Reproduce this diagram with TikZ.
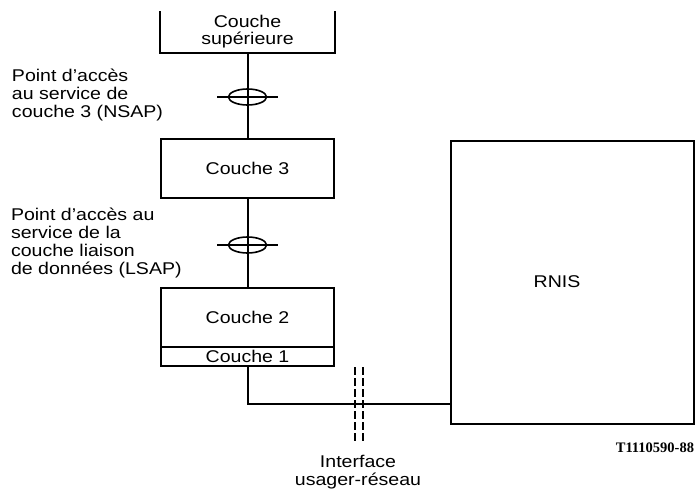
\documentclass[tikz,border=0pt]{standalone}
\usepackage{fontspec}
\setmainfont{Liberation Sans}[FakeStretch=1.15]
\newfontfamily\reffont{Liberation Serif}
\usetikzlibrary{shapes.geometric}
\begin{document}
\begin{tikzpicture}[x=1pt,y=-1pt,line width=2pt,
  txt/.style={font=\fontsize{17}{18}\selectfont, inner sep=0pt},
  layerbox/.style={draw, rectangle, minimum width=173pt, inner sep=0pt, txt},
  sapring/.style={draw, ellipse, minimum width=38pt, minimum height=16pt, inner sep=0pt, line width=1.6pt},
  sapbar/.style={line width=1.6pt},
  iface/.style={line width=1.6pt, dash pattern=on 8pt off 3pt}]
\useasboundingbox (0,0) rectangle (696,493);

% upper layer (open box)
\node[txt, draw=none, minimum width=173pt, minimum height=40pt, align=center] (sup) at (247.5,32) {Couche\\[-1pt]supérieure};
\draw (sup.north west) -- (sup.south west) -- (sup.south east) -- (sup.north east);

\node[layerbox, minimum height=59pt] (c3) at (247.5,168.5) {Couche 3};
\node[layerbox, minimum height=59pt] (c2) at (247.5,317.5) {Couche 2};
\node[layerbox, minimum height=19pt] (c1) at (247.5,356.5) {Couche 1};
\node[draw, rectangle, minimum width=243pt, minimum height=283pt, inner sep=0pt] (rnis) at (572.5,282.5) {};
\node[txt] (rnislbl) at (557,282) {RNIS};

% SAPs
\node[sapring] (nsap) at (247.5,97) {};
\node[sapring] (lsap) at (247.5,245) {};
\coordinate (n1) at (217,97); \coordinate (n2) at (278,97);
\coordinate (l1) at (217,245); \coordinate (l2) at (278,245);
\draw[sapbar] (n1) -- (n2);
\draw[sapbar] (l1) -- (l2);

\draw (sup.south) -- (c3.north);
\draw (c3.south) -- (c2.north);
\coordinate (j) at (451,404);
\draw (c1.south) |- (j);

% interface
\coordinate (d1t) at (355,367); \coordinate (d1b) at (355,443);
\coordinate (d2t) at (363,367); \coordinate (d2b) at (363,443);
\draw[iface] (d1t) -- (d1b);
\draw[iface] (d2t) -- (d2b);

% labels
\node[txt, anchor=north west, align=left] (nsaplbl) at (11,68) {Point d'accès\\au service de\\couche 3 (NSAP)};
\node[txt, anchor=north west, align=left] (lsaplbl) at (10,207) {Point d'accès au\\service de la\\couche liaison\\de données (LSAP)};
\node[txt, align=center] (ifacelbl) at (358,472) {Interface\\usager-réseau};
\node[inner sep=0pt, anchor=east, font=\reffont\bfseries\fontsize{14.5}{15}\selectfont] (ref) at (695,448) {T1110590-88};
\end{tikzpicture}
\end{document}
